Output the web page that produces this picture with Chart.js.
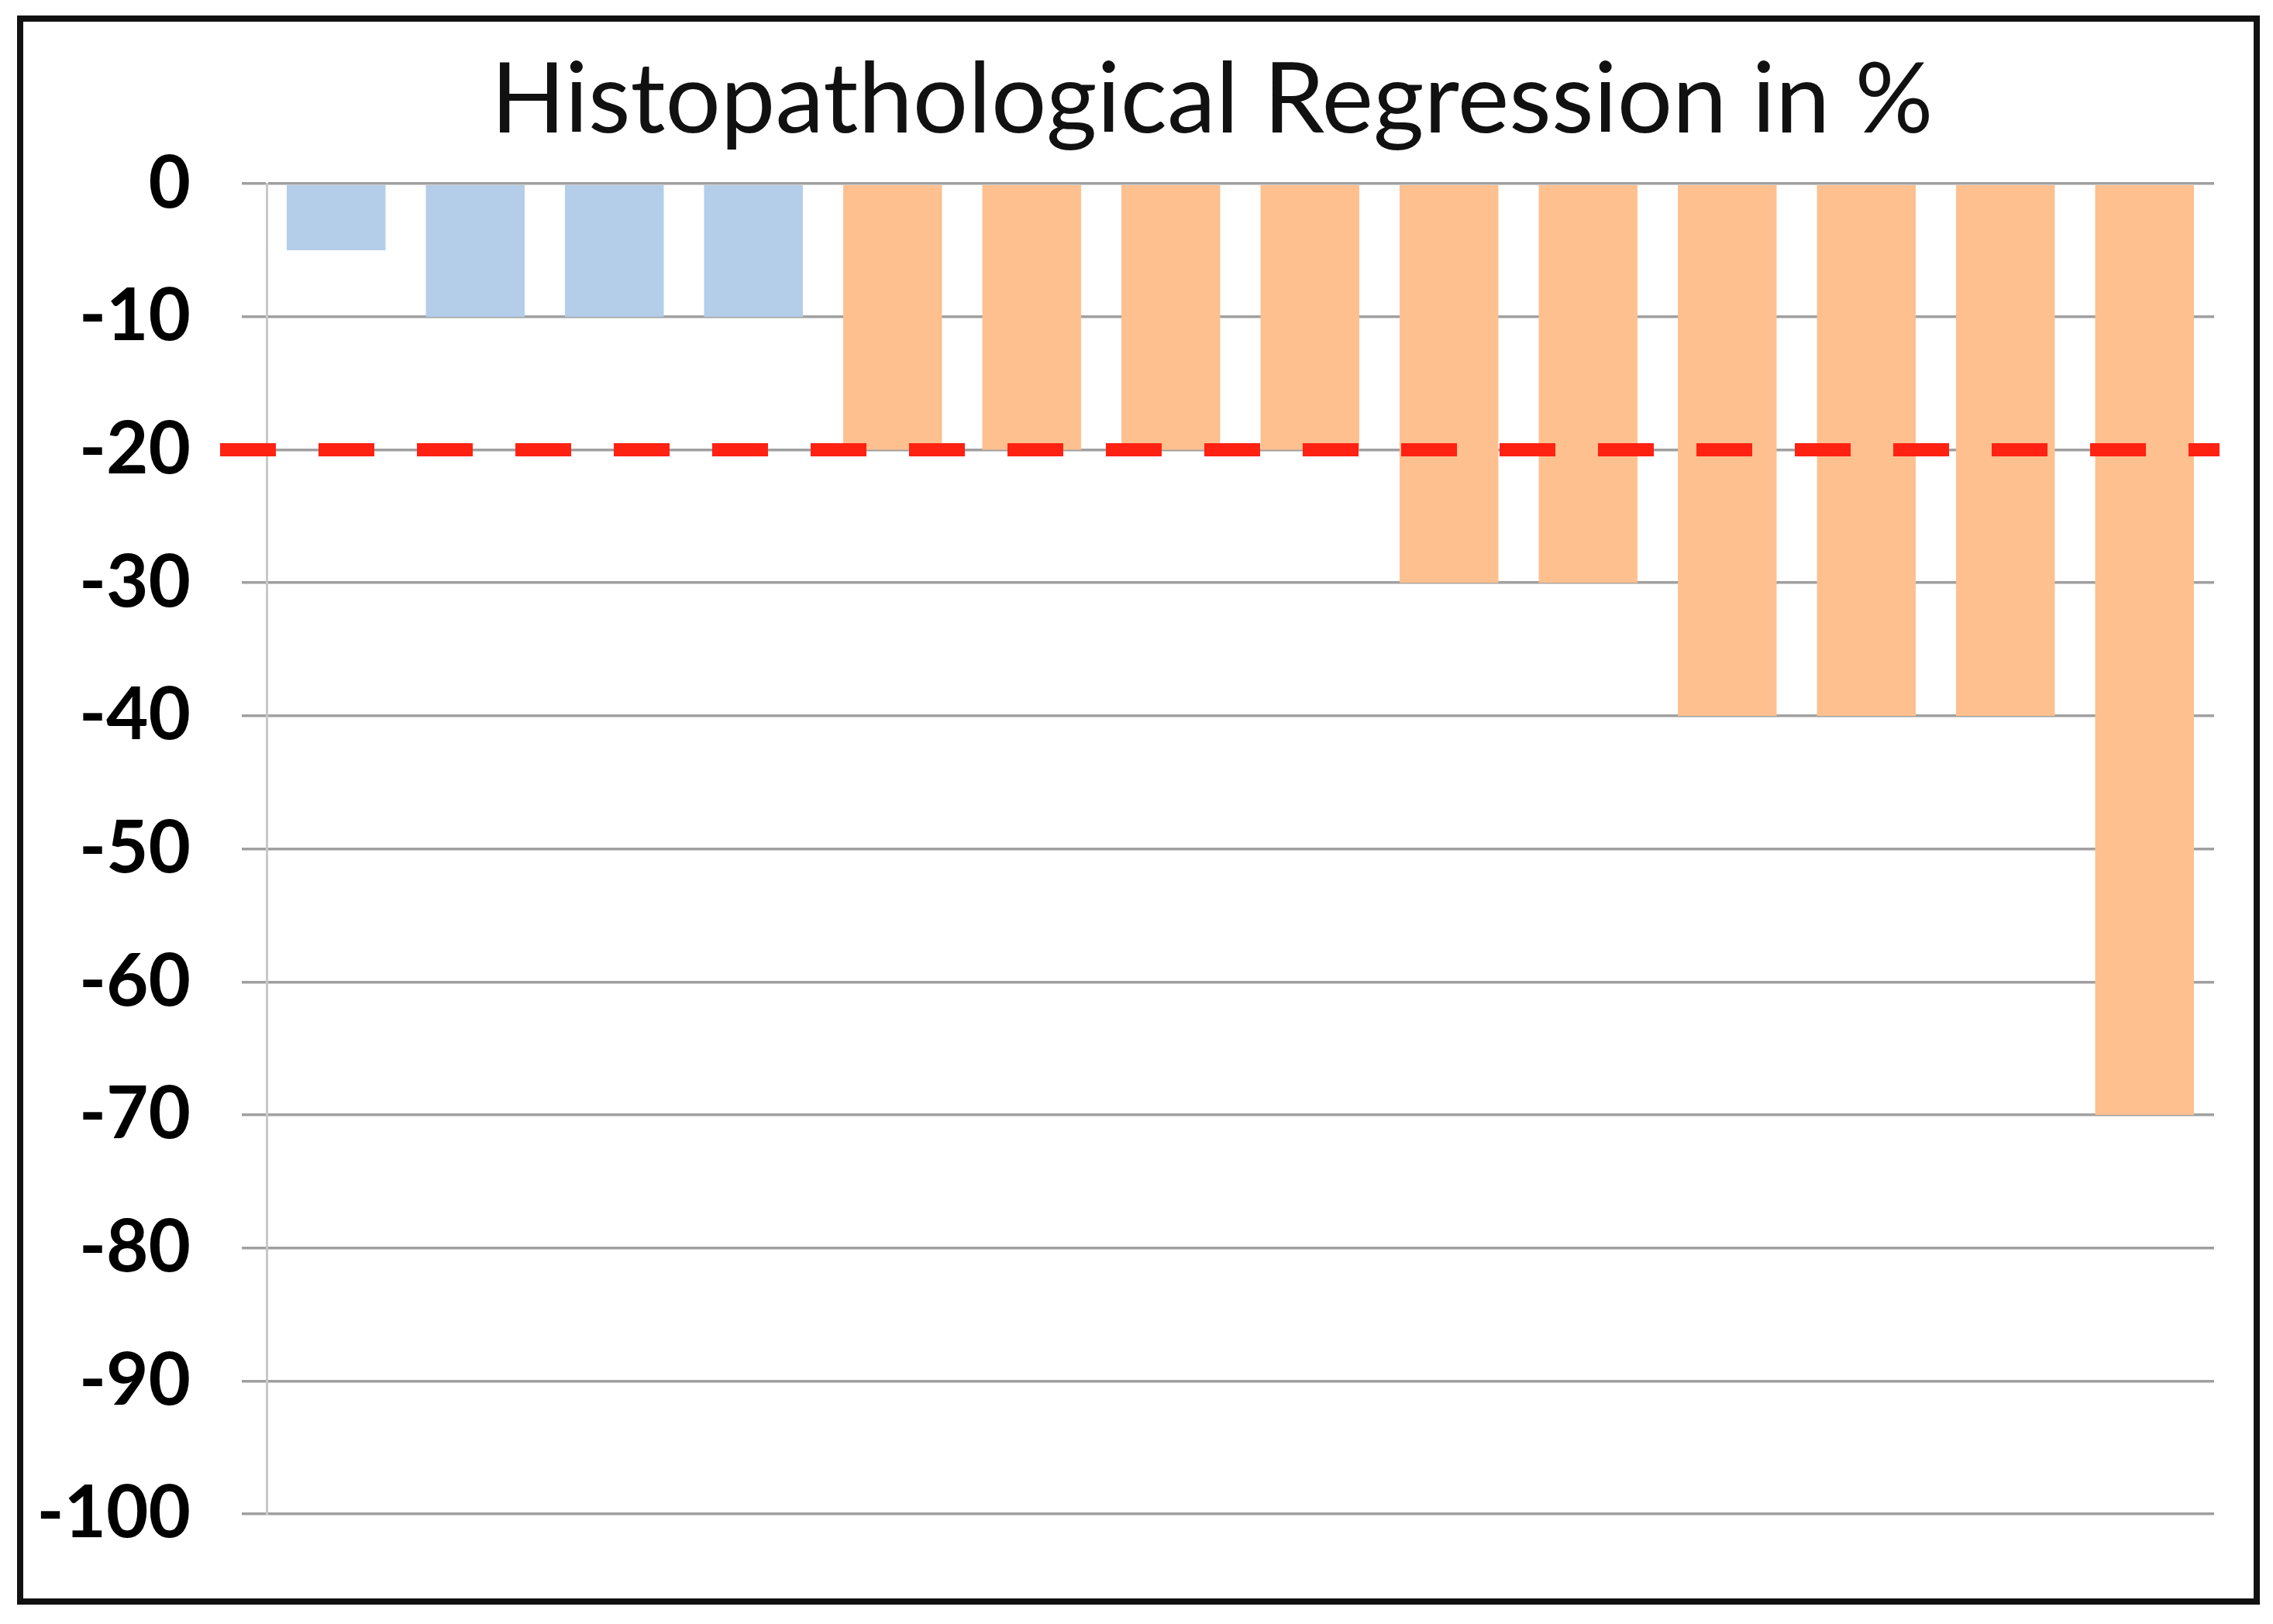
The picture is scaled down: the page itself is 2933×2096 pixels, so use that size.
<!DOCTYPE html>
<html lang="en">
<head>
  <meta charset="UTF-8">
  <title>Histopathological Regression in %</title>
  <script src="https://cdn.jsdelivr.net/npm/chart.js"></script>
  <style>
    html, body { margin: 0; padding: 0; background: #fff; }
    #wrap { width: 2933px; height: 2096px; position: relative; }
  </style>
</head>
<body>
  <div id="wrap"><canvas id="chart"></canvas></div>
<script>
  // one bar per patient
  const patients = ['1', '2', '3', '4', '5', '6', '7', '8', '9', '10', '11', '12', '13', '14'];
  const regression = [-5, -10, -10, -10, -20, -20, -20, -20, -30, -30, -40, -40, -40, -70];
  const groups = ['minor', 'minor', 'minor', 'minor', 'major', 'major', 'major', 'major',
                  'major', 'major', 'major', 'major', 'major', 'major'];
  const yTicks = [0, -10, -20, -30, -40, -50, -60, -70, -80, -90, -100];
  const threshold = -20;

  const groupColors = { minor: '#b4cde8', major: '#fec08f' };

  const framePlugin = {
    id: 'frame',
    beforeDraw(chart) {
      const ctx = chart.ctx;
      ctx.save();
      ctx.fillStyle = '#fff';
      ctx.fillRect(0, 0, chart.width, chart.height);
      ctx.restore();
    },
    afterDraw(chart) {
      const ctx = chart.ctx;
      ctx.save();
      ctx.strokeStyle = '#111';
      ctx.lineWidth = 8;
      ctx.strokeRect(26, 24, chart.width - 26 - 21, chart.height - 24 - 29);
      ctx.restore();
    }
  };

  // title sits a bit right of the frame centre, as in the original
  const titleShift = {
    id: 'titleShift',
    afterLayout(chart) {
      if (chart.titleBlock) chart.titleBlock.left = 271;
    }
  };

  // dashed red cut-off line across the whole plot
  const thresholdPlugin = {
    id: 'threshold',
    afterDatasetsDraw(chart) {
      const { ctx, chartArea, scales } = chart;
      const y = scales.y.getPixelForValue(threshold);
      ctx.save();
      ctx.strokeStyle = '#ff2112';
      ctx.lineWidth = 17;
      ctx.setLineDash([72, 55]);
      ctx.lineCap = 'butt';
      ctx.beginPath();
      ctx.moveTo(chartArea.left - 60, y);
      ctx.lineTo(chartArea.right + 7, y);
      ctx.stroke();
      ctx.restore();
    }
  };

  new Chart(document.getElementById('chart'), {
    type: 'bar',
    data: {
      labels: patients,
      datasets: [{
        data: regression,
        backgroundColor: groups.map(g => groupColors[g]),
        borderWidth: 0,
        barPercentage: 0.71,
        categoryPercentage: 1
      }]
    },
    options: {
      responsive: true,
      maintainAspectRatio: false,
      animation: false,
      devicePixelRatio: 1,
      layout: { padding: { left: 20, right: 76, top: 30, bottom: 142 } },
      plugins: {
        legend: { display: false },
        tooltip: { enabled: false },
        title: {
          display: true,
          text: 'Histopathological Regression in %',
          color: '#111',
          font: { family: 'Lato', size: 126, weight: 'normal', lineHeight: 1.2 },
          padding: { top: 25, bottom: 31 }
        }
      },
      scales: {
        x: { display: false },
        y: {
          min: -100,
          max: 0,
          afterBuildTicks: axis => { axis.ticks = yTicks.map(v => ({ value: v })); },
          afterFit: axis => { axis.width = 324; },
          grid: { color: '#a0a0a0', lineWidth: 3.5, tickLength: 32, drawTicks: true },
          border: { display: true, color: '#c8c8c8', width: 3 },
          ticks: {
            color: '#000',
            padding: 66,
            font: { family: 'Lato', size: 94, weight: 'bold' }
          }
        }
      }
    },
    plugins: [framePlugin, titleShift, thresholdPlugin]
  });
</script>
</body>
</html>
